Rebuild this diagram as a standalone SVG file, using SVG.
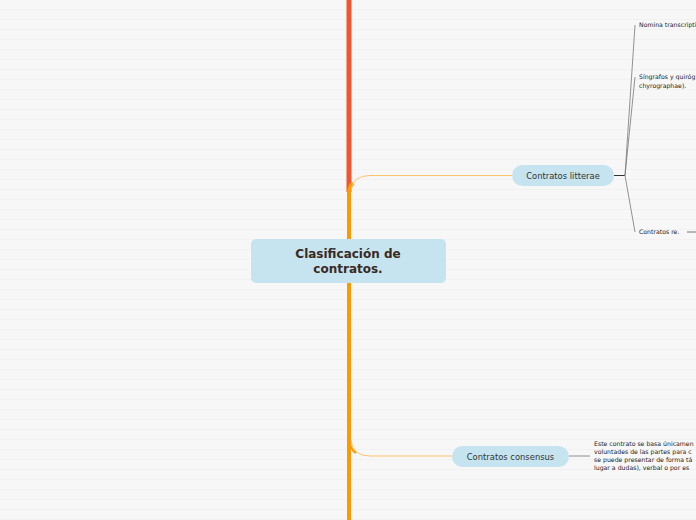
<svg xmlns="http://www.w3.org/2000/svg" width="696" height="520" viewBox="0 0 696 520">
<defs>
<pattern id="bg" x="0" y="0" width="696" height="10" patternUnits="userSpaceOnUse">
<rect width="696" height="10" fill="#f7f7f7"/>
<rect y="9.5" width="696" height="1" fill="#ececec"/>
</pattern>
</defs>
<style>
.node{fill:#c5e4f0}
.t{font-family:"DejaVu Sans",Verdana,sans-serif;fill:#333}
.leaf{font-family:"DejaVu Sans",Verdana,sans-serif;fill:#222;font-size:6.2px}
.thin{fill:none;stroke:#777;stroke-width:0.8}
</style>
<rect width="696" height="520" fill="url(#bg)"/>
<g id="connectors">
<line x1="349" y1="0" x2="349" y2="192" stroke="#ee5530" stroke-width="5"/>
<path d="M349 520 V192 Q349.5 186 353 183" fill="none" stroke="#ff9900" stroke-width="4"/>
<path d="M351 190 Q353 175.5 370 175.5 H512" fill="none" stroke="#ffc36a" stroke-width="1"/>
<path d="M351 440 Q352 456 370 456 H452" fill="none" stroke="#ffc36a" stroke-width="1"/>
<path d="M349 438 Q350 450 356 453" fill="none" stroke="#ff9900" stroke-width="2"/>
<line x1="614" y1="175.5" x2="625" y2="175.5" stroke="#333" stroke-width="1"/>
<path class="thin" d="M625 175.5 L635 25"/>
<path class="thin" d="M625 175.5 L635 77"/>
<path class="thin" d="M625 175.5 L635 232"/>
<line x1="687" y1="232" x2="696" y2="232" stroke="#555" stroke-width="0.8"/>
<line x1="569" y1="456" x2="590" y2="456" stroke="#777" stroke-width="0.8"/>
</g>
<g id="center">
<rect x="251" y="239" width="195" height="44" rx="5" class="node"/>
<text class="t" x="348" y="258" text-anchor="middle" font-size="12" font-weight="bold" style="fill:#3a2a1e">Clasificación de</text>
<text class="t" x="348" y="273" text-anchor="middle" font-size="12" font-weight="bold" style="fill:#3a2a1e">contratos.</text>
</g>
<g id="litterae">
<rect x="512" y="165" width="102" height="21" rx="10.5" class="node"/>
<text class="t" x="563" y="179" text-anchor="middle" font-size="8.4">Contratos litterae</text>
</g>
<g id="nomina">
<text class="leaf" x="639" y="27">Nomina transcripti</text>
</g>
<g id="singrafos">
<text class="leaf" x="639" y="79">Síngrafos y quiróg</text>
<text class="leaf" x="639" y="88">chyrographae).</text>
</g>
<g id="re">
<text class="leaf" x="639" y="234">Contratos re.</text>
</g>
<g id="consensus">
<rect x="452" y="446" width="117" height="21" rx="10.5" class="node"/>
<text class="t" x="510.5" y="460" text-anchor="middle" font-size="8.4">Contratos consensus</text>
</g>
<g id="consensus-desc">
<text class="leaf" x="594" y="446">Este contrato se basa únicamen</text>
<text class="leaf" x="594" y="454">voluntades de las partes para c</text>
<text class="leaf" x="594" y="462">se puede presentar de forma tá</text>
<text class="leaf" x="594" y="470">lugar a dudas), verbal o por es</text>
</g>
</svg>
